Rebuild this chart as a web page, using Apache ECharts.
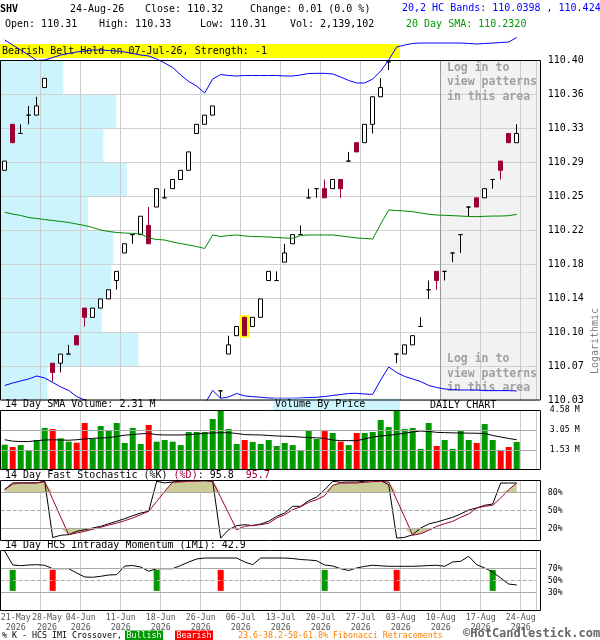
<!DOCTYPE html>
<html><head><meta charset="utf-8">
<script src="https://cdn.jsdelivr.net/npm/echarts@6/dist/echarts.min.js"></script>
<style>html,body{margin:0;padding:0;background:#fff}#c{width:600px;height:640px}</style>
</head><body><div id="c"></div>
<script>
// ---------------- DATA ----------------
const dates = ['2026-05-21','2026-05-22','2026-05-26','2026-05-27','2026-05-28','2026-05-29',
'2026-06-01','2026-06-02','2026-06-03','2026-06-04','2026-06-05','2026-06-08','2026-06-09','2026-06-10','2026-06-11','2026-06-12','2026-06-15','2026-06-16','2026-06-17','2026-06-18','2026-06-22','2026-06-23','2026-06-24','2026-06-25','2026-06-26','2026-06-29','2026-06-30',
'2026-07-01','2026-07-02','2026-07-06','2026-07-07','2026-07-08','2026-07-09','2026-07-10','2026-07-13','2026-07-14','2026-07-15','2026-07-16','2026-07-17','2026-07-20','2026-07-21','2026-07-22','2026-07-23','2026-07-24','2026-07-27','2026-07-28','2026-07-29','2026-07-30','2026-07-31',
'2026-08-03','2026-08-04','2026-08-05','2026-08-06','2026-08-07','2026-08-10','2026-08-11','2026-08-12','2026-08-13','2026-08-14','2026-08-17','2026-08-18','2026-08-19','2026-08-20','2026-08-21','2026-08-24'];

const opens = [110.28,110.33,110.32,110.34,110.34,110.37,110.07,110.07,110.08,110.10,
110.13,110.12,110.13,110.14,110.16,110.19,110.21,110.21,110.22,110.24,
110.25,110.26,110.27,110.28,110.32,110.33,110.34,110.04,110.08,110.10,
110.12,110.11,110.12,110.16,110.16,110.18,110.20,110.21,110.25,110.26,
110.26,110.26,110.27,110.29,110.31,110.31,110.33,110.36,110.398,110.08,
110.08,110.09,110.11,110.15,110.17,110.17,110.19,110.21,110.24,110.25,
110.25,110.27,110.29,110.32,110.31];
const highs = [110.29,110.33,110.33,110.35,110.36,110.38,110.07,110.08,110.09,110.10,
110.13,110.13,110.14,110.15,110.17,110.20,110.21,110.23,110.24,110.26,
110.26,110.27,110.28,110.30,110.33,110.34,110.35,110.04,110.10,110.11,
110.12,110.12,110.14,110.17,110.17,110.20,110.21,110.22,110.26,110.26,
110.27,110.27,110.27,110.30,110.31,110.33,110.36,110.38,110.398,110.08,
110.09,110.10,110.12,110.16,110.17,110.17,110.19,110.21,110.24,110.25,
110.26,110.27,110.29,110.32,110.33];
const lows = [110.28,110.31,110.32,110.33,110.34,110.37,110.05,110.06,110.08,110.09,
110.11,110.12,110.13,110.14,110.15,110.19,110.20,110.21,110.20,110.24,
110.25,110.26,110.27,110.28,110.32,110.33,110.34,110.032,110.08,110.10,
110.10,110.11,110.12,110.16,110.16,110.18,110.20,110.21,110.25,110.25,
110.25,110.26,110.25,110.29,110.30,110.31,110.32,110.36,110.389,110.07,
110.08,110.09,110.11,110.14,110.15,110.16,110.18,110.19,110.23,110.24,
110.25,110.26,110.27,110.31,110.31];
const closes = [110.29,110.31,110.32,110.34,110.35,110.38,110.06,110.08,110.08,110.09,
110.12,110.13,110.14,110.15,110.17,110.20,110.21,110.23,110.20,110.26,
110.25,110.27,110.28,110.30,110.33,110.34,110.35,110.04,110.09,110.11,
110.10,110.12,110.14,110.17,110.16,110.19,110.21,110.21,110.25,110.26,
110.25,110.27,110.26,110.29,110.30,110.33,110.36,110.37,110.398,110.08,
110.09,110.10,110.11,110.15,110.16,110.17,110.19,110.21,110.24,110.24,
110.26,110.27,110.28,110.31,110.32];

const upperBand = [110.4218,110.4163,110.4109,110.4054,110.3995,110.4000,110.4027,110.4054,110.4071,110.4087,
110.4098,110.4109,110.4109,110.4103,110.4098,110.4087,110.4071,110.4054,110.4044,110.4011,
110.3967,110.3918,110.3837,110.3766,110.3717,110.3641,110.3793,110.3842,110.3831,110.3826,
110.3831,110.3831,110.3831,110.3831,110.3831,110.3826,110.3826,110.3837,110.3853,110.3855,
110.3855,110.3848,110.3815,110.3777,110.3750,110.3750,110.3793,110.3880,110.4000,110.4141,
110.4163,110.4180,110.4185,110.4185,110.4185,110.4185,110.4185,110.4185,110.4180,110.4174,
110.4180,110.4185,110.4190,110.4196,110.4245];
const sma20 = [110.2343,110.2324,110.2308,110.2286,110.2275,110.2264,110.2253,110.2243,110.2232,110.2215,
110.2199,110.2177,110.2150,110.2134,110.2123,110.2117,110.2112,110.2107,110.2063,110.2047,
110.2041,110.2019,110.2003,110.1987,110.1970,110.1949,110.2096,110.2079,110.2090,110.2096,
110.2085,110.2079,110.2077,110.2074,110.2068,110.2063,110.2060,110.2090,110.2096,110.2096,
110.2096,110.2096,110.2085,110.2074,110.2063,110.2058,110.2052,110.2215,110.2368,110.2362,
110.2357,110.2349,110.2335,110.2321,110.2313,110.2310,110.2306,110.2302,110.2297,110.2295,
110.2299,110.2302,110.2302,110.2306,110.2320];
const lowerBand = [110.0458,110.0485,110.0507,110.0529,110.0561,110.0540,110.0491,110.0442,110.0404,110.0338,
110.0300,110.0246,110.0191,110.0164,110.0148,110.0148,110.0153,110.0159,110.0083,110.0083,
110.0115,110.0121,110.0170,110.0208,110.0224,110.0257,110.0404,110.0319,110.0333,110.0371,
110.0344,110.0336,110.0330,110.0322,110.0319,110.0319,110.0319,110.0322,110.0327,110.0330,
110.0338,110.0349,110.0360,110.0371,110.0373,110.0365,110.0362,110.0518,110.0659,110.0599,
110.0556,110.0529,110.0501,110.0458,110.0436,110.0420,110.0414,110.0409,110.0409,110.0409,
110.0402,110.0402,110.0402,110.0402,110.0398];

const volumes = [1.93,1.75,1.90,1.52,2.29,3.22,3.14,2.42,2.16,2.08,
3.60,2.37,3.37,3.01,3.60,2.06,3.22,1.98,3.45,2.16,
2.29,2.16,1.90,2.91,2.91,2.91,3.91,4.55,3.14,1.98,
2.29,2.14,1.98,2.29,1.83,2.06,1.90,1.52,3.06,2.37,
2.98,2.83,2.16,1.90,2.83,2.83,2.91,3.83,3.29,4.55,
3.14,3.22,1.60,3.60,1.83,2.29,1.60,3.06,2.29,2.06,
3.52,2.29,1.52,1.75,2.14];
const volSma = [2.31,2.20,2.17,2.17,2.24,2.29,2.31,2.29,2.27,2.31,
2.37,2.42,2.44,2.47,2.56,2.66,2.71,2.77,2.79,2.70,
2.68,2.68,2.68,2.70,2.75,2.81,2.83,2.85,2.85,2.79,
2.71,2.69,2.68,2.64,2.60,2.58,2.56,2.51,2.48,2.46,
2.41,2.29,2.24,2.24,2.24,2.37,2.52,2.60,2.65,2.73,
2.81,2.91,2.98,2.95,2.88,2.86,2.84,2.83,2.82,2.81,
2.79,2.64,2.52,2.41,2.31];

const stochK = [85,96,96,96,96,98.7,5,8.7,9.7,15.3,
18,20.8,23.6,28,32,36.4,41.3,45.8,48.7,98.7,
96,97.5,98.7,99.7,99.7,99.7,98.7,4,18,24.7,
26.4,24.7,27.5,32,40.3,45.8,57,57,66.3,72.5,
84.7,98.7,97,97.5,97.5,98.7,99.7,99.7,93,4,
5.3,9.7,20.8,27.5,30.8,34.7,38.7,44.2,50.8,54.2,
58.7,60.8,95.8,95.8,95.8];
const stochD = [85,94,96,96,96,98,69,39,9.7,12.5,
15.3,18.7,22,25.8,29,33,37.5,43,48.7,65,
82,97.5,97.5,98.7,98.7,99.7,98.7,72,45,18,
23.6,25.3,26.4,28.7,37.5,43,51.3,56.3,63.6,68,
74.7,92,95.8,95.8,95.8,97,98,98.7,97.5,68,
38.8,8.7,11.4,17,23.6,28,32,38.7,44.2,54.2,
57,58.7,70.8,84.7,95.7];

const imi = [99.5,76.2,75,76.2,76.7,75.7,70,70,70,62.8,
56.2,55.7,57.3,59.5,60,74.5,75.3,72.8,65.7,70,
70,70,75.3,81.2,86.2,87.8,87.8,87.8,87.8,87.8,
81.2,76.7,87.8,87.8,87.8,87.8,87,85.3,84.5,83.3,
76.2,74.5,70,67,71.2,74,75.7,74.8,74,74,
74,74,74.5,75.3,75.7,74,81.2,82.3,90.7,76.7,
71.2,64.5,54.5,44.5,42.9];
const imiBullish = [1, 19, 40, 61];
const imiBearish = [6, 27, 49];

// volume by price, top price band to bottom (relative units)
const vbp = [62.7,115.7,102.7,126,87.3,112.7,110.7,101,137.7,46.7];

const priceTicks = ['110.03','110.07','110.10','110.14','110.18','110.22','110.25','110.29','110.33','110.36','110.40'];
const volTicks = [1.53, 3.05, 4.58];
const stochLevels = [20, 50, 80];
const imiLevels = [30, 50, 70];
const xLabelIdx = [0,4,9,14,19,24,29,34,39,44,49,54,59,64];
const patternDate = '2026-07-07';

// ---------------- CHART ----------------
const MONO = '"DejaVu Sans Mono", monospace';
const MON = ['Jan','Feb','Mar','Apr','May','Jun','Jul','Aug','Sep','Oct','Nov','Dec'];
const UP_GREEN = '#009900', DOWN_RED = '#ff0000', MAROON = '#990033';
const categories = dates.concat(['', '']);
const GL = 0.7, GW = 536, BAND = GW / categories.length;
const tickDates = xLabelIdx.map(i => dates[i]);

const candleData = dates.map((d,i)=>[opens[i], closes[i], lows[i], highs[i]]);
const pIdx = dates.indexOf(patternDate);
const highlightData = dates.map((d,i)=> i===pIdx ? candleData[i] : '-');

const gridInterval = (i)=> i>0 && i%5===0;
function catAxis(gi) {
  return {gridIndex:gi, type:'category', data:categories, boundaryGap:true,
    axisLine:{show:false}, axisTick:{show:false}, axisLabel:{show:false},
    splitLine:{show:true, interval:gridInterval, lineStyle:{color:'#cccccc', width:1}}};
}
const fmtDate = (v) => { const p=v.split('-'); return [p[2]+'-'+MON[+p[1]-1], p[0]]; };
const LBL = {color:'#555', fontFamily:MONO, fontSize:8.3, lineHeight:10};
// label axes: ticks on the weekly grid lines (every 5 sessions)
function labelAxis(gi, first) {
  return {gridIndex:gi, type:'category', data:tickDates, boundaryGap:false, position:'bottom',
    axisLine:{show:false}, axisTick:{show:false}, splitLine:{show:false},
    axisLabel:{show:true, margin:2, showMinLabel:true, showMaxLabel:true, hideOverlap:false,
      interval: first ? ((i)=>i===0) : ((i)=>i>0),
      align: first ? 'left' : 'center',
      color:LBL.color, fontFamily:MONO, fontSize:8.3, lineHeight:10,
      formatter:(v,i)=>{
        const [a,b]=fmtDate(v);
        if (first) return '{a|'+a+'}\n{y|'+b+'}';
        const s = (i===1)?'f':'n';
        return '{'+s+'|'+a+'}\n{'+s+'|'+b+'}';
      },
      rich:{a:Object.assign({},LBL), y:Object.assign({padding:[0,0,0,5]},LBL),
            n:Object.assign({},LBL), f:Object.assign({padding:[0,0,0,12.6]},LBL)}}};
}
function levels(vals, dashedVal, fmt, dist) {
  return {symbol:['none','none'], silent:true, animation:false,
    label:{show:true, position:'end', distance:dist, formatter:p=>fmt(p.value), color:'#000', fontSize:8.3, fontFamily:MONO},
    emphasis:{disabled:true},
    data: vals.map(v=>({yAxis:v, lineStyle:{color:'#aaaaaa', width:1, type: v===dashedVal?'dashed':'solid'}}))};
}
const noLine = {opacity:0, width:0};

const G = [];
function txt(x, y, s, o={}) {
  const el = {type:'text', x, y, z:(o.z!=null?o.z:20), silent:true,
    style:Object.assign({text:s, fill:o.fill||'#000', font:(o.bold?'bold ':'')+(o.size||10)+'px '+MONO,
      align:o.align||'left', verticalAlign:o.va||'middle', textAlign:o.align||'left', textVerticalAlign:o.va||'middle'}, o.style||{})};
  if (o.rotation!=null) el.rotation = o.rotation;
  if (o.lineHeight) el.style.lineHeight = o.lineHeight;
  G.push(el);
}
function rect(x,y,w,h,style,z){ G.push({type:'rect', z:(z!=null?z:20), silent:true, shape:{x,y,width:w,height:h}, style}); }

// login shaded area
rect(440, 60, 100, 340, {fill:'#f2f2f2'}, -10);
G.push({type:'line', z:1, silent:true, shape:{x1:440.5,y1:60,x2:440.5,y2:400}, style:{stroke:'#999999', lineWidth:1}});
txt(447, 60.5, 'Log in to\nview patterns\nin this area', {fill:'#a0a0a0', bold:true, size:11.5, va:'top', lineHeight:14.5, z:1});
txt(447, 352, 'Log in to\nview patterns\nin this area', {fill:'#a0a0a0', bold:true, size:11.5, va:'top', lineHeight:14.5, z:1});

// header
txt(0, 9, 'SHV', {bold:true});
txt(70, 9, '24-Aug-26');
txt(145, 9, 'Close: 110.32');
txt(250, 9, 'Change: 0.01 (0.0 %)');
txt(402, 8, '20,2 HC Bands: 110.0398 , 110.424', {fill:'#0000ff'});
txt(5, 24.5, 'Open: 110.31');
txt(99, 24.5, 'High: 110.33');
txt(200, 24.5, 'Low: 110.31');
txt(290, 24.5, 'Vol: 2,139,102');
txt(406, 24.5, '20 Day SMA: 110.2320', {fill:'#009900'});
// banner
rect(0, 44, 400, 14, {fill:'#ffff00'}, 0);
txt(2, 51.5, 'Bearish Belt Hold on 07-Jul-26, Strength: -1', {z:0});
// Logarithmic
txt(595, 341, 'Logarithmic', {fill:'#808080', align:'center', rotation:Math.PI/2});
// volume panel titles
rect(273, 398.5, 127, 11.5, {fill:'#ccf4fc'}, 15);
txt(275, 404.5, 'Volume By Price');
txt(430, 405, 'DAILY CHART');
txt(5, 404.5, '14 Day SMA Volume: 2.31 M');
G.push({type:'text', x:5, y:475, z:20, silent:true, style:{text:'14 Day Fast Stochastic (%K) {d|(%D)}: 95.8  {d|95.7}',
  fill:'#000', font:'10px '+MONO, align:'left', verticalAlign:'middle', textAlign:'left', textVerticalAlign:'middle',
  rich:{d:{fill:MAROON, color:MAROON, font:'10px '+MONO}}}});
txt(5, 545, '14 Day HCS Intraday Momentum (IMI): 42.9');
// frames
const fr = {fill:'none', stroke:'#000', lineWidth:1};
rect(0.5, 60.5, 540, 339.5, fr, 30);
rect(0.5, 410.5, 540, 59, fr, 30);
rect(0.5, 480.5, 540, 60, fr, 30);
rect(0.5, 550.5, 540, 60, fr, 30);
// bottom legend
txt(2, 635.5, '% K - HCS IMI Crossover,', {size:8.3});
rect(125, 630.5, 38, 10, {fill:'#009900'}, 20);
txt(144, 635.5, 'Bullish', {size:8.3, fill:'#fff', align:'center', z:21});
rect(175, 630.5, 38, 10, {fill:'#ff0000'}, 20);
txt(194, 635.5, 'Bearish', {size:8.3, fill:'#fff', align:'center', z:21});
txt(238, 635.5, '23.6-38.2-50-61.8% Fibonacci Retracements', {size:8.3, fill:'#ff8000'});
txt(463, 634, '\u00a9HotCandlestick.com', {size:12, bold:true, fill:'#666666'});

const grids = [
  {left:GL, width:GW, top:60, height:340},
  {left:GL, width:GW, top:410.3, height:59.4},
  {left:GL, width:GW, top:480.5, height:60},
  {left:GL, width:GW, top:550.7, height:60},
  {left:GL, width:BAND*5*(tickDates.length-1), top:550.7, height:60},
  {left:GL, width:BAND*5*(tickDates.length-1), top:550.7, height:60}
].map(g=>Object.assign(g,{containLabel:false, outerBoundsMode:'none', show:false}));

const option = {
  animation:false,
  backgroundColor:'#ffffff',
  grid: grids,
  xAxis: [
    catAxis(0),
    {gridIndex:0, type:'value', min:0, max:GW, show:false},
    catAxis(1),
    catAxis(2),
    catAxis(3),
    labelAxis(4,false),
    labelAxis(5,true)
  ],
  yAxis: [
    {gridIndex:0, type:'value', min:110.03, max:110.40, show:false},
    {gridIndex:0, type:'value', min:0, max:10, interval:1, position:'right',
      axisLine:{show:false}, axisTick:{show:false},
      axisLabel:{formatter:v=>priceTicks[v], margin:11, fontSize:10, fontFamily:MONO, color:'#000'},
      splitLine:{show:true, lineStyle:{color:'#d0d0d0', width:1}}},
    {gridIndex:0, type:'category', data:vbp.map((v,i)=>priceTicks[10-i]), inverse:true, show:false},
    {gridIndex:1, type:'value', min:0, max:4.58, show:false},
    {gridIndex:2, type:'value', min:0, max:100, show:false},
    {gridIndex:3, type:'value', min:0, max:100, show:false},
    {gridIndex:4, type:'value', min:0, max:1, show:false},
    {gridIndex:5, type:'value', min:0, max:1, show:false}
  ],
  graphic: {elements: G},
  series: [
    {type:'bar', name:'vbp', xAxisIndex:1, yAxisIndex:2, data:vbp, barCategoryGap:'0%', z:-1, silent:true,
      itemStyle:{color:'#ccf4fc'}},
    {type:'candlestick', name:'hl', xAxisIndex:0, yAxisIndex:0, data:highlightData, barWidth:6, z:2, silent:true,
      itemStyle:{color:'#ffff00', color0:'#ffff00', borderColor:'#ffff00', borderColor0:'#ffff00', borderWidth:4}},
    {type:'candlestick', name:'SHV', xAxisIndex:0, yAxisIndex:0, data:candleData, barWidth:5, z:3, silent:true,
      itemStyle:{color:'#ffffff', color0:MAROON, borderColor:'#000000', borderColor0:MAROON, borderColorDoji:'#000000', borderWidth:1}},
    {type:'line', name:'upper', xAxisIndex:0, yAxisIndex:0, data:upperBand, symbol:'none', clip:false, z:4, silent:true,
      lineStyle:{color:'#0000ff', width:1}},
    {type:'line', name:'sma', xAxisIndex:0, yAxisIndex:0, data:sma20, symbol:'none', z:4, silent:true,
      lineStyle:{color:'#008800', width:1}},
    {type:'line', name:'lower', xAxisIndex:0, yAxisIndex:0, data:lowerBand, symbol:'none', clip:true, z:4, silent:true,
      lineStyle:{color:'#0000ff', width:1}},
    {type:'bar', name:'vol', xAxisIndex:2, yAxisIndex:3, data:volumes, barWidth:6, z:2, silent:true,
      itemStyle:{color:(p)=> closes[p.dataIndex] < opens[p.dataIndex] ? DOWN_RED : UP_GREEN},
      markLine: levels(volTicks, null, v=>Number(v).toFixed(2)+' M', 13)},
    {type:'line', name:'volsma', xAxisIndex:2, yAxisIndex:3, data:volSma, symbol:'none', z:4, silent:true,
      lineStyle:{color:'#000', width:1}},
    {type:'line', xAxisIndex:3, yAxisIndex:4, stack:'hi', data:dates.map(()=>80), symbol:'none', lineStyle:noLine, silent:true, z:1},
    {type:'line', xAxisIndex:3, yAxisIndex:4, stack:'hi', data:stochD.map(v=>Math.max(v-80,0)), symbol:'none', lineStyle:noLine,
      areaStyle:{color:'#cccc99', opacity:1}, silent:true, z:1},
    {type:'line', xAxisIndex:3, yAxisIndex:4, stack:'lo', data:stochD.map(v=>Math.min(v,20)), symbol:'none', lineStyle:noLine, silent:true, z:1},
    {type:'line', xAxisIndex:3, yAxisIndex:4, stack:'lo', data:stochD.map(v=>20-Math.min(v,20)), symbol:'none', lineStyle:noLine,
      areaStyle:{color:'#cccc99', opacity:1}, silent:true, z:1},
    {type:'line', name:'%K', xAxisIndex:3, yAxisIndex:4, data:stochK, symbol:'none', z:4, silent:true,
      lineStyle:{color:'#000', width:1}, markLine: levels(stochLevels, 50, v=>v+'%', 11)},
    {type:'line', name:'%D', xAxisIndex:3, yAxisIndex:4, data:stochD, symbol:'none', z:4, silent:true,
      lineStyle:{color:MAROON, width:1}},
    {type:'bar', xAxisIndex:4, yAxisIndex:5, stack:'bull', barWidth:6, barGap:'-100%', silent:true, z:2,
      data:dates.map((d,i)=> imiBullish.includes(i)?33:'-'), itemStyle:{color:'rgba(0,0,0,0)'}},
    {type:'bar', xAxisIndex:4, yAxisIndex:5, stack:'bull', barWidth:6, barGap:'-100%', silent:true, z:2,
      data:dates.map((d,i)=> imiBullish.includes(i)?35:'-'), itemStyle:{color:UP_GREEN}},
    {type:'bar', xAxisIndex:4, yAxisIndex:5, stack:'bear', barWidth:6, barGap:'-100%', silent:true, z:2,
      data:dates.map((d,i)=> imiBearish.includes(i)?33:'-'), itemStyle:{color:'rgba(0,0,0,0)'}},
    {type:'bar', xAxisIndex:4, yAxisIndex:5, stack:'bear', barWidth:6, barGap:'-100%', silent:true, z:2,
      data:dates.map((d,i)=> imiBearish.includes(i)?35:'-'), itemStyle:{color:DOWN_RED}},
    {type:'line', name:'IMI', xAxisIndex:4, yAxisIndex:5, data:imi, symbol:'none', z:4, silent:true,
      lineStyle:{color:'#000', width:1}, markLine: levels(imiLevels, 50, v=>v+'%', 11)}
  ]
};
const chart = echarts.init(document.getElementById('c'), null, {renderer:'canvas', width:600, height:640});
chart.setOption(option);
</script>
</body></html>
